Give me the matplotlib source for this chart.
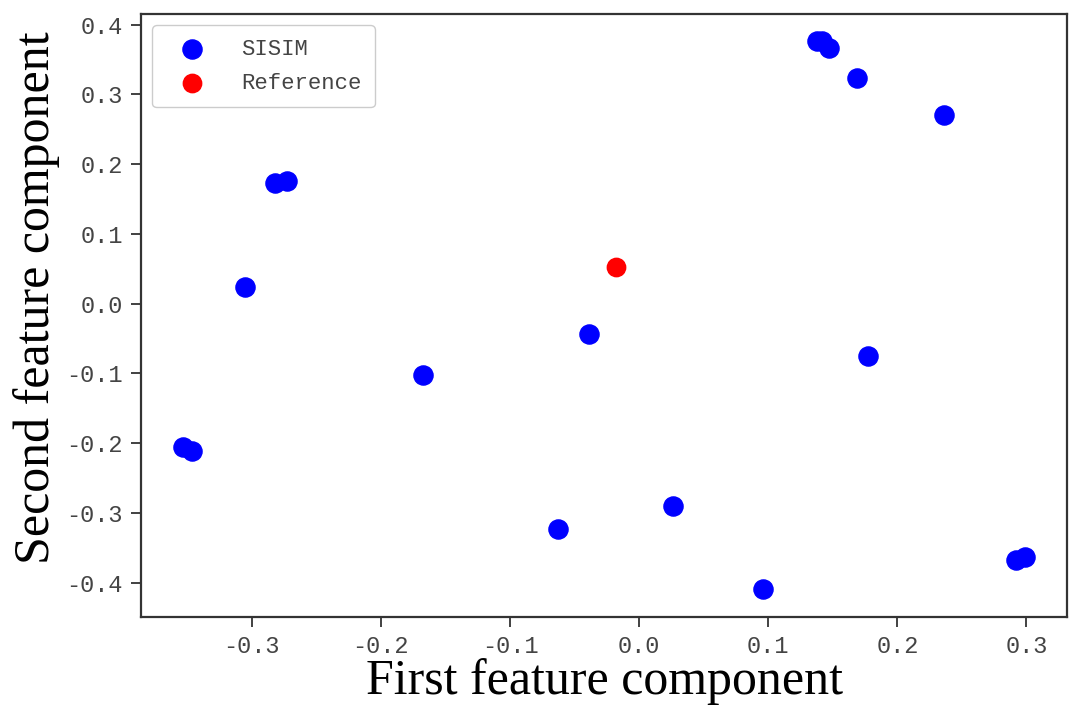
import matplotlib
matplotlib.use("Agg")
import matplotlib.pyplot as plt

# First / second feature components of each sample
sisim_x = [-0.353, -0.346, -0.305, -0.282, -0.273, -0.167, -0.063, -0.039,
           0.026, 0.096, 0.138, 0.142, 0.147, 0.169, 0.177, 0.236, 0.292, 0.299]
sisim_y = [-0.205, -0.211, 0.024, 0.173, 0.176, -0.103, -0.323, -0.043,
           -0.290, -0.410, 0.376, 0.376, 0.366, 0.323, -0.075, 0.271, -0.368, -0.364]
ref_x = [-0.018]
ref_y = [0.052]

xticks = [-0.3, -0.2, -0.1, 0.0, 0.1, 0.2, 0.3]
yticks = [-0.4, -0.3, -0.2, -0.1, 0.0, 0.1, 0.2, 0.3, 0.4]

fig = plt.figure(figsize=(10.77, 7.05), dpi=100)
ax = fig.add_axes([0.131, 0.125, 0.860, 0.855])

ax.scatter(sisim_x, sisim_y, s=190, c="blue", label="SISIM", zorder=3)
ax.scatter(ref_x, ref_y, s=175, c="red", label="Reference", zorder=3)

ax.set_xticks(xticks)
ax.set_yticks(yticks)
ax.set_xticklabels([f"{v:.1f}" for v in xticks])
ax.set_yticklabels([f"{v:.1f}" for v in yticks])
tick_font = "Liberation Mono"
for lbl in ax.get_xticklabels() + ax.get_yticklabels():
    lbl.set_fontfamily(tick_font)
    lbl.set_fontsize(17)
    lbl.set_color("#444444")
ax.tick_params(axis="both", length=7, width=1.3, color="#333333", pad=6)

for sp in ax.spines.values():
    sp.set_linewidth(1.6)
    sp.set_color("#333333")

ax.set_xlabel("First feature component", fontfamily="Liberation Serif",
              fontsize=36, labelpad=0)
ax.set_ylabel("Second feature component", fontfamily="Liberation Serif",
              fontsize=36)
ax.yaxis.set_label_coords(-0.088, 0.53)

leg = ax.legend(loc="upper left", prop={"family": tick_font, "size": 16},
                handletextpad=1.0, borderpad=0.6, labelspacing=0.6,
                borderaxespad=0.5, handlelength=2.4, framealpha=1.0,
                edgecolor="#cccccc")
for t in leg.get_texts():
    t.set_color("#444444")

fig.savefig("out.png", dpi=100)
